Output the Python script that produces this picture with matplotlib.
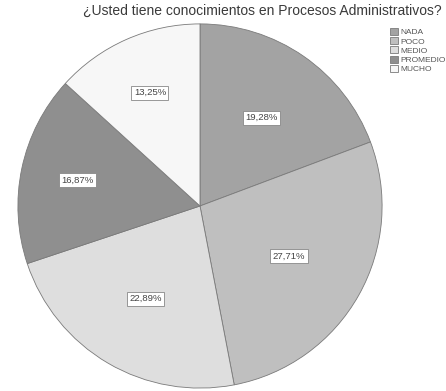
import matplotlib.pyplot as plt
from matplotlib.patches import Patch
import numpy as np

categories = ["NADA", "POCO", "MEDIO", "PROMEDIO", "MUCHO"]
values = [19.28, 27.71, 22.89, 16.87, 13.25]
colors = ["#a3a3a3", "#bfbfbf", "#dedede", "#8f8f8f", "#f7f7f7"]
# distance of each label from the centre, as a fraction of the radius
label_r = [0.59, 0.56, 0.59, 0.69, 0.68]

plt.rcParams['font.family'] = ['Liberation Sans', 'DejaVu Sans']

fig = plt.figure(figsize=(4.46, 3.91), dpi=100)
ax = fig.add_axes([17 / 446, 2 / 391, 366 / 446, 366 / 391])

wedges, texts = ax.pie(values, colors=colors, startangle=90, counterclock=False,
                       wedgeprops=dict(edgecolor="#7a7a7a", linewidth=0.6))
ax.set_xlim(-1.005, 1.005)
ax.set_ylim(-1.005, 1.005)
ax.set_aspect("equal")

# percentage labels in white boxes
total = sum(values)
cum = 0
for v, r in zip(values, label_r):
    mid = 90 - (cum + v / 2) / total * 360
    cum += v
    x = r * np.cos(np.radians(mid))
    y = r * np.sin(np.radians(mid))
    ax.text(x, y, f"{v:.2f}%".replace(".", ","), ha="center", va="center", fontsize=6.8,
            color="#444444",
            bbox=dict(boxstyle="square,pad=0.25", facecolor="white", edgecolor="#888888", linewidth=0.6))

fig.text(262 / 446, 1 - 11 / 391, "¿Usted tiene conocimientos en Procesos Administrativos?",
         ha="center", va="center", fontsize=10, color="#3a3a3a")

handles = [Patch(facecolor=c, edgecolor="#7a7a7a", linewidth=0.6) for c in colors]
fig.legend(handles, categories, loc="upper left", bbox_to_anchor=(386 / 446, 1 - 24 / 391),
           frameon=False, fontsize=6, handlelength=0.9, handleheight=0.9,
           handletextpad=0.3, labelspacing=0.1, borderpad=0, labelcolor="#555555")

fig.savefig("out.png", dpi=100)
